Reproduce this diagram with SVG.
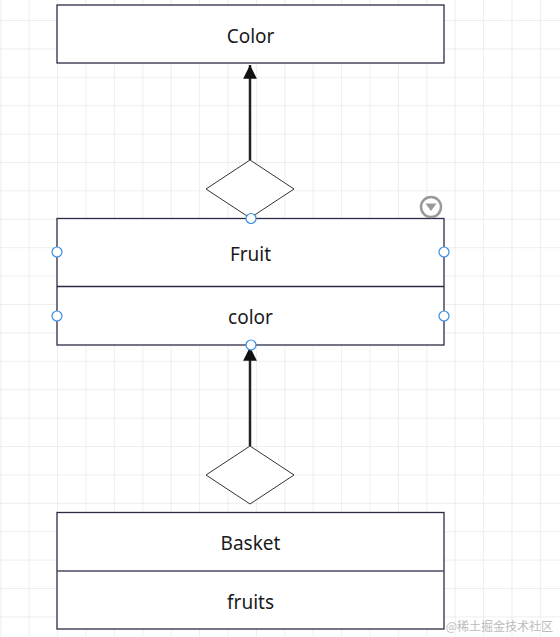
<svg xmlns="http://www.w3.org/2000/svg" width="560" height="637" viewBox="0 0 560 637">
<style>
.box{fill:#ffffff;stroke:#2b2b45;stroke-width:1.3}
.div{stroke:#2b2b45;stroke-width:1.3}
.lbl{font-family:"Noto Sans","Liberation Sans",sans-serif;font-size:19px;fill:#1a1a1a;text-anchor:middle}
.dia{fill:#ffffff;stroke:#333333;stroke-width:1}
.conn{stroke:#222222;stroke-width:2.5;fill:none}
.hdl{fill:#ffffff;stroke:#3b8ee0;stroke-width:1.2}
</style>
<defs>
<pattern id="grid" patternUnits="userSpaceOnUse" x="0.3" y="20" width="28.4" height="28.4">
<path d="M28.4 0 L0 0 L0 28.4" fill="none" stroke="#dddddd" stroke-width="1"/>
</pattern>
<marker id="arr" markerUnits="userSpaceOnUse" markerWidth="14" markerHeight="16" viewBox="0 0 12 14" refX="12" refY="7" orient="auto">
<path d="M0 1 L12 7 L0 13 Z" fill="#111111"/>
</marker>
</defs>
<rect width="560" height="637" fill="#ffffff"/>
<rect width="560" height="637" fill="url(#grid)"/>

<g id="connectors">
<line class="conn" x1="250" y1="160" x2="250" y2="65" marker-end="url(#arr)"/>
<line class="conn" x1="250" y1="446" x2="250" y2="347" marker-end="url(#arr)"/>
</g>

<g id="color">
<rect class="box" x="57" y="5" width="387" height="58"/>
<text class="lbl" x="250.5" y="43">Color</text>
</g>

<g id="diamond1">
<polygon class="dia" points="250,160 294,189 250,218 206,189"/>
</g>

<g id="fruit">
<rect class="box" x="57" y="218.5" width="387" height="126.5"/>
<line class="div" x1="57" y1="286.5" x2="444" y2="286.5"/>
<text class="lbl" x="250.5" y="261">Fruit</text>
<text class="lbl" x="250.5" y="324">color</text>
</g>

<g id="handles">
<circle class="hdl" cx="251" cy="218.5" r="5"/>
<circle class="hdl" cx="57" cy="252" r="5"/>
<circle class="hdl" cx="444" cy="252" r="5"/>
<circle class="hdl" cx="57" cy="316" r="5"/>
<circle class="hdl" cx="444" cy="316" r="5"/>
<circle class="hdl" cx="251" cy="345" r="5"/>
</g>

<g id="menu-icon">
<circle cx="431" cy="207" r="10" fill="#ffffff" stroke="#999999" stroke-width="2.5"/>
<path d="M425.5 203.5 L436.5 203.5 L431 211 Z" fill="#999999"/>
</g>

<g id="diamond2">
<polygon class="dia" points="250,446 294,475 250,504 206,475"/>
</g>

<g id="basket">
<rect class="box" x="57" y="512.5" width="387" height="116.5"/>
<line class="div" x1="57" y1="571" x2="444" y2="571" stroke-width="2" style="stroke:#4a4a62"/>
<text class="lbl" x="250.5" y="550">Basket</text>
<text class="lbl" x="250.5" y="609">fruits</text>
</g>

<text x="553" y="631" text-anchor="end" font-family="'Noto Sans CJK SC',sans-serif" font-size="12" fill="#bbbbbb">@稀土掘金技术社区</text>
</svg>
